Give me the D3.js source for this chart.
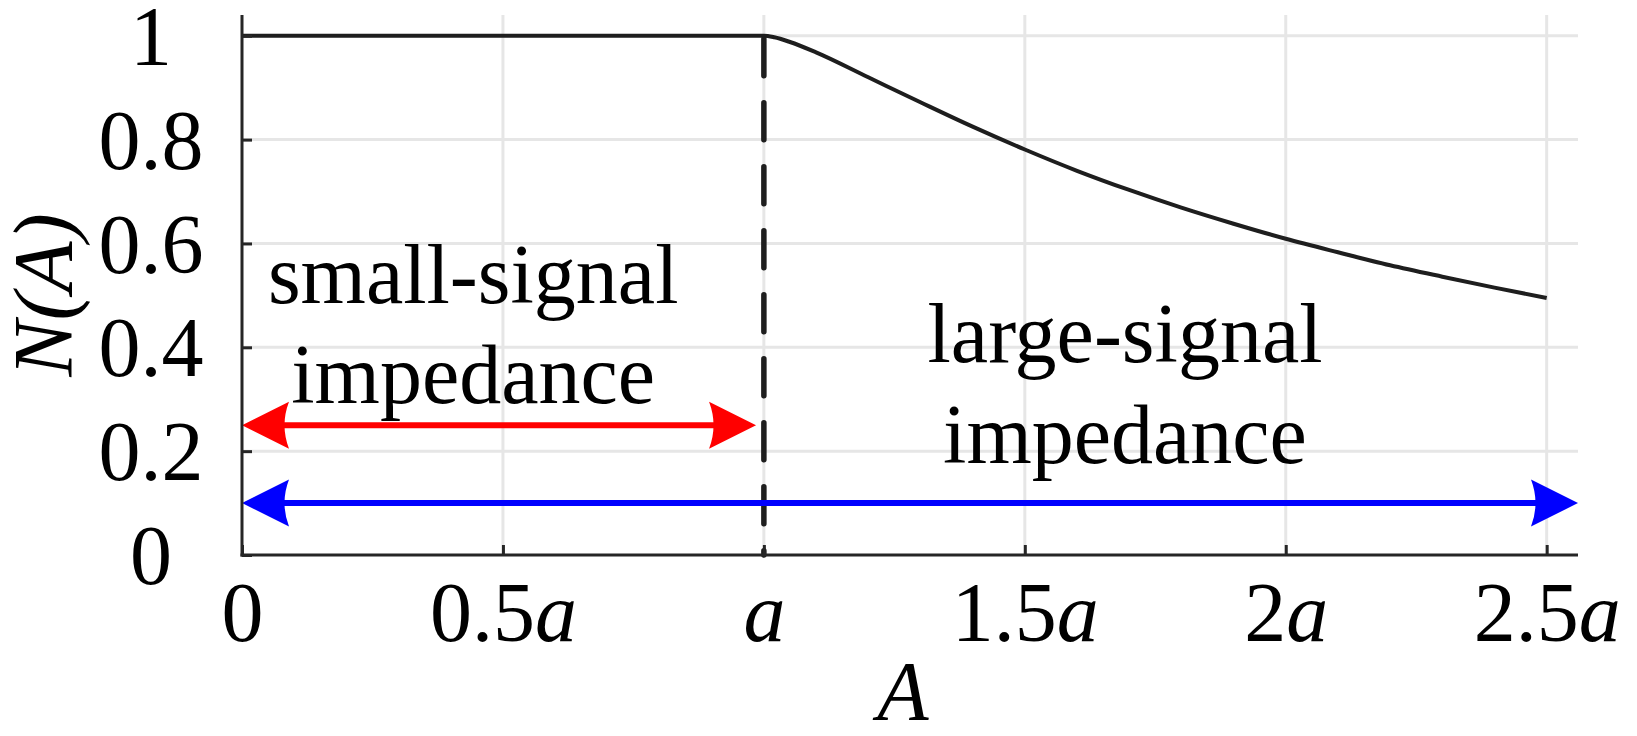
<!DOCTYPE html>
<html>
<head>
<meta charset="utf-8">
<script src="https://cdn.jsdelivr.net/npm/d3@7"></script>
<style>
  html, body { margin: 0; padding: 0; background: #fff; }
  svg { display: block; }
  text { font-family: "Liberation Serif", "Times New Roman", serif; fill: #000; }
</style>
</head>
<body>
<svg id="chart" width="1637" height="736"></svg>
<script>
// ---- data ----
const curveA = [0, 1.0, 1.02, 1.05, 1.1, 1.2, 1.3, 1.4, 1.5, 1.6, 1.7, 1.8, 1.9, 2.0, 2.1, 2.2, 2.3, 2.4, 2.5];
const curveN = [1, 1.0, 0.997, 0.988, 0.968, 0.920, 0.872, 0.825, 0.781, 0.740, 0.703, 0.669, 0.638, 0.609, 0.583, 0.558, 0.536, 0.515, 0.495];
const xTickValues = [0, 0.5, 1, 1.5, 2, 2.5];
const xTickNums = ["0", "0.5", "", "1.5", "2", "2.5"];
const xTickSuffix = ["", "a", "a", "a", "a", "a"];
const yTickValues = [0, 0.2, 0.4, 0.6, 0.8, 1];
const yTickLabels = ["0", "0.2", "0.4", "0.6", "0.8", "1"];
const thresholdA = 1;                 // A = a
const smallArrow = { from: 0, to: 0.985, level: 0.25 };
const largeArrow = { from: 0, to: 2.56, level: 0.1 };
const smallLabel = ["small-signal", "impedance"];
const largeLabel = ["large-signal", "impedance"];

// ---- layout ----
const svg = d3.select("#chart");
const x = d3.scaleLinear().domain([0, 2.56]).range([242, 1578]);
const y = d3.scaleLinear().domain([0, 1.04]).range([555, 15]);
const FS = 84;

// grid
const grid = svg.append("g");
grid.selectAll("line.gx").data(xTickValues.filter(v => v > 0)).join("line")
  .attr("x1", d => x(d)).attr("x2", d => x(d))
  .attr("y1", y.range()[1]).attr("y2", y.range()[0])
  .attr("stroke", "#e6e6e6").attr("stroke-width", 3);
grid.selectAll("line.gy").data(yTickValues.filter(v => v > 0)).join("line")
  .attr("y1", d => y(d)).attr("y2", d => y(d))
  .attr("x1", x.range()[0]).attr("x2", x.range()[1])
  .attr("stroke", "#e6e6e6").attr("stroke-width", 3);

// curve
const pts = curveA.map((a, i) => [a, curveN[i]]);
svg.append("path")
  .datum(pts)
  .attr("d", d3.line().x(d => x(d[0])).y(d => y(d[1])).curve(d3.curveMonotoneX))
  .attr("fill", "none").attr("stroke", "#1e1e1e").attr("stroke-width", 4)
  .attr("stroke-linejoin", "round");

// dashed threshold line
svg.append("line")
  .attr("x1", x(thresholdA)).attr("x2", x(thresholdA))
  .attr("y1", y(1) + 3).attr("y2", y(0))
  .attr("stroke", "#1e1e1e").attr("stroke-width", 5.5)
  .attr("stroke-dasharray", "37 27").attr("stroke-linecap", "round");

// double arrows
const headPath = "M0,0 L-47,-23.5 Q-38,0 -47,23.5 Z";
function doubleArrow(spec, color) {
  const g = svg.append("g");
  const x0 = x(spec.from), x1 = x(spec.to), yy = y(spec.level);
  g.append("line")
    .attr("x1", x0 + 40).attr("x2", x1 - 40)
    .attr("y1", yy).attr("y2", yy)
    .attr("stroke", color).attr("stroke-width", 6);
  g.append("path").attr("d", headPath).attr("fill", color)
    .attr("transform", `translate(${x1},${yy})`);
  g.append("path").attr("d", headPath).attr("fill", color)
    .attr("transform", `translate(${x0},${yy}) rotate(180)`);
}
doubleArrow(smallArrow, "#ff0000");
doubleArrow(largeArrow, "#0000ff");

// annotation text
function block(lines, cx, n1, n2) {
  const t = svg.append("g").attr("font-size", FS).attr("text-anchor", "middle");
  t.append("text").attr("x", x(cx)).attr("y", y(n1)).text(lines[0]);
  t.append("text").attr("x", x(cx)).attr("y", y(n2)).text(lines[1]);
}
block(smallLabel, 0.443, 0.485, 0.293);
block(largeLabel, 1.692, 0.372, 0.177);

// axes
const axColor = "#262626";
const yAxis = svg.append("g")
  .attr("transform", `translate(${x.range()[0]},0)`)
  .call(d3.axisLeft(y).tickValues(yTickValues).tickSize(-10).tickPadding(91)
        .tickFormat((d, i) => yTickLabels[i]));
const xAxis = svg.append("g")
  .attr("transform", `translate(0,${y.range()[0]})`)
  .call(d3.axisBottom(x).tickValues(xTickValues).tickSize(-10).tickPadding(0)
        .tickFormat(() => ""));
[yAxis, xAxis].forEach(g => {
  g.selectAll(".tick line").attr("stroke", axColor).attr("stroke-width", 3);
});
yAxis.select(".domain").remove();
xAxis.select(".domain").remove();
svg.append("line").attr("x1", x.range()[0]).attr("x2", x.range()[0])
  .attr("y1", y.range()[1]).attr("y2", y.range()[0] + 1.5)
  .attr("stroke", axColor).attr("stroke-width", 3);
svg.append("line").attr("x1", x.range()[0] - 1.5).attr("x2", x.range()[1])
  .attr("y1", y.range()[0]).attr("y2", y.range()[0])
  .attr("stroke", axColor).attr("stroke-width", 3);

yAxis.selectAll(".tick text")
  .attr("font-family", "Liberation Serif, serif").attr("font-size", FS)
  .attr("fill", "#000").attr("text-anchor", "middle").attr("dy", "0.34em");

// x tick labels with italic "a"
xAxis.selectAll(".tick text").remove();
xAxis.selectAll(".tick").each(function (d, i) {
  const t = d3.select(this).append("text")
    .attr("y", 86).attr("font-size", FS).attr("font-family", "Liberation Serif, serif")
    .attr("fill", "#000").attr("text-anchor", "middle").attr("dy", 0);
  if (xTickNums[i]) t.append("tspan").text(xTickNums[i]);
  if (xTickSuffix[i]) t.append("tspan").attr("font-style", "italic").text(xTickSuffix[i]);
});

// axis titles
svg.append("text").attr("x", 903).attr("y", 720)
  .attr("font-size", FS).attr("font-style", "italic").attr("text-anchor", "middle")
  .text("A");
svg.append("text")
  .attr("transform", "translate(72,295) rotate(-90)")
  .attr("font-size", FS).attr("font-style", "italic").attr("text-anchor", "middle")
  .text("N(A)");
</script>
</body>
</html>
